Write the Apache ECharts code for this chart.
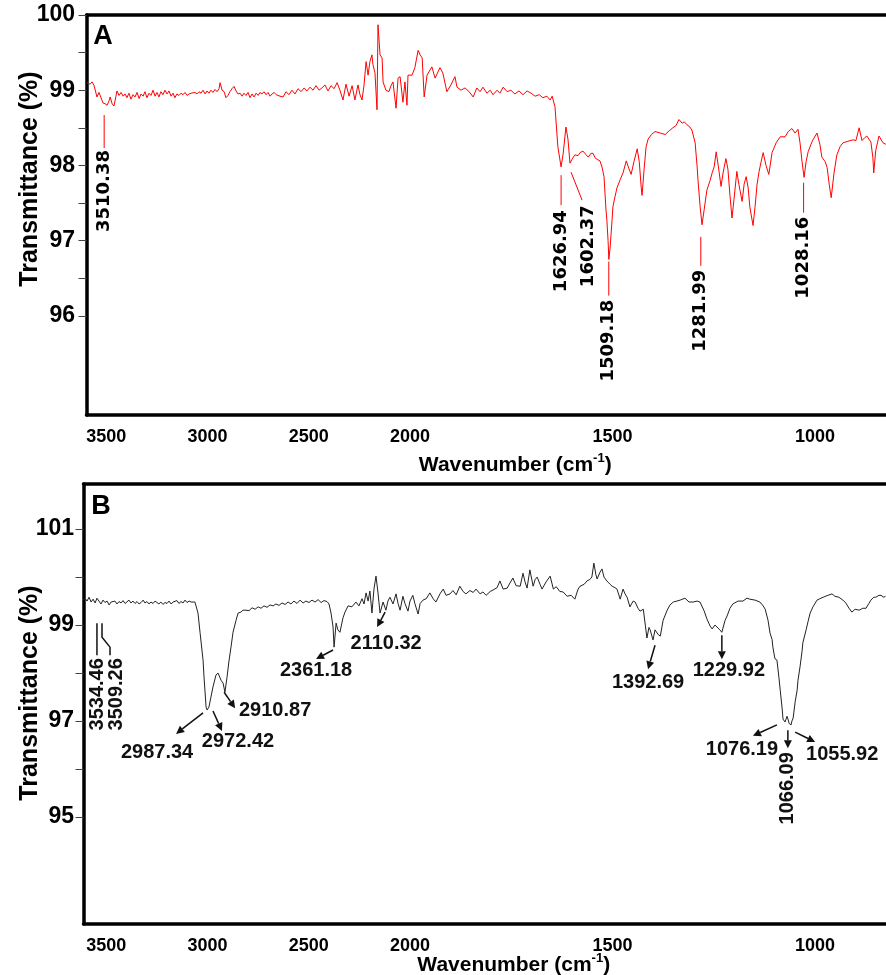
<!DOCTYPE html>
<html>
<head>
<meta charset="utf-8">
<script src="https://cdn.jsdelivr.net/npm/echarts@6/dist/echarts.min.js"></script>
<style>
html, body { margin: 0; padding: 0; background: #fff; }
#chart { width: 886px; height: 975px; }
</style>
</head>
<body>
<div id="chart"></div>
<script>
// spectrum A (red) : [wavenumber, transmittance]
var spectrumA = [
  [3595,99.10],[3580,99.08],[3570,99.11],[3560,99.06],[3555,99.07],[3546,98.91],[3536,98.97],[3526,98.90],
  [3516,98.83],[3506,98.82],[3496,98.80],[3486,98.86],[3481,98.91],[3471,98.82],[3462,98.79],[3452,98.92],
  [3447,98.99],[3437,98.93],[3427,98.97],[3417,98.92],[3407,98.95],[3398,98.90],[3388,98.96],[3378,98.88],
  [3368,98.94],[3358,98.91],[3348,98.97],[3338,98.89],[3328,98.95],[3318,98.92],[3309,98.98],[3299,98.90],
  [3289,98.96],[3279,98.93],[3269,99.00],[3259,98.92],[3250,98.97],[3240,98.91],[3230,98.98],[3220,98.94],
  [3210,99.00],[3200,98.95],[3190,98.99],[3180,98.92],[3170,98.96],[3161,98.90],[3151,98.95],[3141,98.93],
  [3131,98.96],[3121,98.94],[3111,98.97],[3101,98.93],[3091,98.95],[3081,98.96],[3072,98.94],[3062,98.97],
  [3052,98.95],[3042,98.98],[3032,98.96],[3022,99.00],[3012,98.95],[3002,98.99],[2993,98.96],[2983,99.00],
  [2973,98.97],[2963,99.01],[2953,98.98],[2943,99.02],[2938,99.10],[2928,99.00],[2918,98.98],[2909,98.90],
  [2899,98.93],[2889,98.98],[2879,99.02],[2869,99.05],[2859,98.99],[2849,98.95],[2839,98.96],[2829,98.92],
  [2820,98.96],[2810,98.93],[2800,98.97],[2790,98.90],[2780,98.95],[2770,98.91],[2760,98.96],[2750,98.93],
  [2741,98.97],[2731,98.95],[2721,98.98],[2711,98.94],[2701,98.97],[2691,98.92],[2681,98.95],[2671,98.97],
  [2661,98.94],[2652,98.96],[2642,98.92],[2627,98.91],[2612,98.98],[2598,98.94],[2583,99.00],[2568,98.95],
  [2553,99.02],[2538,98.98],[2523,99.03],[2509,98.99],[2494,99.04],[2479,99.00],[2464,99.06],[2449,99.00],
  [2435,99.03],[2420,99.07],[2405,98.99],[2390,99.06],[2375,99.02],[2360,99.10],[2346,99.00],[2331,98.87],
  [2316,99.08],[2301,98.92],[2286,99.06],[2272,98.87],[2257,99.07],[2247,98.94],[2237,98.87],[2227,99.07],
  [2217,99.38],[2207,99.20],[2198,99.38],[2188,99.47],[2183,99.34],[2173,99.23],[2163,98.74],[2158,99.87],
  [2148,99.47],[2138,99.43],[2133,99.11],[2119,99.00],[2104,98.98],[2094,99.06],[2084,99.11],[2069,98.76],
  [2059,99.16],[2049,99.18],[2035,98.84],[2025,99.11],[2015,98.80],[2010,99.20],[1995,99.20],[1988,99.30],
  [1980,99.53],[1975,99.47],[1970,99.43],[1965,98.91],[1958,99.20],[1946,99.31],[1938,99.16],[1926,99.30],
  [1919,99.23],[1909,98.98],[1899,99.07],[1889,99.18],[1884,99.04],[1874,99.00],[1864,99.03],[1854,98.98],
  [1844,98.91],[1835,99.03],[1827,98.98],[1820,99.04],[1810,98.96],[1802,99.00],[1795,98.94],[1785,99.00],
  [1778,98.96],[1770,99.04],[1760,98.98],[1751,99.00],[1741,98.95],[1731,98.99],[1721,98.94],[1711,98.99],
  [1701,98.96],[1691,98.92],[1681,98.94],[1672,98.90],[1662,98.92],[1654,98.87],[1649,98.92],[1642,98.78],
  [1635,98.25],[1627,97.98],[1622,98.15],[1615,98.51],[1610,98.35],[1605,98.03],[1600,98.08],[1593,98.14],
  [1585,98.13],[1580,98.17],[1573,98.19],[1565,98.14],[1560,98.11],[1553,98.16],[1548,98.16],[1543,98.10],
  [1538,98.08],[1531,98.06],[1526,97.98],[1521,97.85],[1516,97.40],[1514,97.28],[1511,97.00],[1509,96.75],
  [1506,96.90],[1501,97.28],[1499,97.45],[1494,97.58],[1489,97.70],[1481,97.81],[1474,97.90],[1466,98.06],
  [1461,97.98],[1454,97.88],[1447,98.05],[1439,98.22],[1434,98.05],[1429,97.70],[1427,97.60],[1422,97.95],
  [1417,98.25],[1412,98.35],[1404,98.41],[1395,98.45],[1382,98.43],[1370,98.41],[1360,98.46],[1351,98.50],
  [1343,98.53],[1336,98.61],[1328,98.56],[1323,98.58],[1316,98.54],[1309,98.51],[1304,98.47],[1296,98.30],
  [1291,97.98],[1289,97.81],[1284,97.47],[1279,97.21],[1274,97.40],[1267,97.67],[1259,97.80],[1254,97.90],
  [1249,97.98],[1244,98.18],[1239,98.00],[1232,97.72],[1227,97.90],[1220,98.09],[1215,97.95],[1210,97.60],
  [1205,97.30],[1200,97.55],[1193,97.92],[1188,97.75],[1180,97.52],[1175,97.75],[1170,97.85],[1165,97.70],
  [1161,97.45],[1153,97.20],[1148,97.45],[1143,97.75],[1138,97.92],[1133,98.05],[1128,98.17],[1121,98.00],
  [1114,97.88],[1106,98.17],[1096,98.30],[1086,98.38],[1074,98.38],[1066,98.45],[1057,98.49],[1049,98.43],
  [1042,98.48],[1037,98.30],[1032,98.05],[1027,97.84],[1022,98.05],[1017,98.18],[1010,98.28],[1005,98.34],
  [995,98.43],[988,98.28],[983,98.11],[975,98.05],[970,97.97],[965,97.75],[960,97.57],[953,97.90],
  [946,98.14],[938,98.25],[931,98.30],[919,98.32],[906,98.34],[899,98.33],[891,98.50],[884,98.33],
  [877,98.37],[872,98.39],[862,98.31],[857,98.10],[855,97.90],[850,98.20],[842,98.39],[832,98.30],[825,98.28]
];

// spectrum B (black)
var spectrumB = [
  [3615,99.52],[3605,99.56],[3595,99.50],[3585,99.58],[3575,99.48],[3565,99.54],[3555,99.46],[3546,99.56],
  [3536,99.50],[3526,99.44],[3516,99.52],[3506,99.47],[3496,99.50],[3486,99.42],[3476,99.48],[3467,99.45],
  [3457,99.50],[3447,99.44],[3437,99.49],[3427,99.46],[3417,99.51],[3407,99.45],[3398,99.48],[3388,99.52],
  [3378,99.46],[3368,99.50],[3358,99.45],[3348,99.49],[3338,99.44],[3328,99.47],[3318,99.52],[3309,99.46],
  [3299,99.49],[3289,99.44],[3279,99.48],[3269,99.45],[3259,99.50],[3250,99.46],[3240,99.44],[3230,99.48],
  [3220,99.43],[3210,99.47],[3200,99.45],[3190,99.50],[3180,99.44],[3170,99.48],[3161,99.46],[3151,99.51],
  [3141,99.45],[3131,99.49],[3121,99.46],[3111,99.52],[3101,99.47],[3091,99.50],[3081,99.48],[3072,99.50],
  [3062,99.48],[3047,99.25],[3037,98.85],[3022,98.27],[3017,97.90],[3007,97.29],[3002,97.23],[2993,97.29],
  [2983,97.50],[2973,97.71],[2958,97.96],[2948,98.00],[2943,97.98],[2933,97.85],[2923,97.79],[2914,97.60],
  [2904,97.90],[2894,98.25],[2884,98.54],[2874,98.85],[2859,99.10],[2849,99.25],[2835,99.27],[2825,99.31],
  [2810,99.31],[2795,99.30],[2780,99.36],[2765,99.33],[2750,99.38],[2736,99.35],[2721,99.40],[2706,99.37],
  [2691,99.42],[2676,99.40],[2662,99.44],[2647,99.41],[2632,99.46],[2617,99.43],[2602,99.48],[2588,99.44],
  [2573,99.50],[2558,99.45],[2543,99.52],[2528,99.46],[2514,99.50],[2499,99.47],[2484,99.52],[2469,99.48],
  [2454,99.53],[2439,99.47],[2425,99.51],[2410,99.49],[2400,99.44],[2390,99.25],[2380,98.96],[2375,98.54],
  [2365,99.04],[2356,98.90],[2346,98.85],[2331,99.15],[2321,99.27],[2306,99.40],[2287,99.38],[2267,99.48],
  [2252,99.40],[2237,99.55],[2227,99.44],[2217,99.67],[2207,99.50],[2198,99.71],[2188,99.25],[2178,99.75],
  [2168,100.02],[2158,99.67],[2148,99.25],[2133,99.48],[2119,99.31],[2109,99.50],[2099,99.58],[2084,99.44],
  [2069,99.65],[2059,99.45],[2049,99.31],[2035,99.60],[2025,99.45],[2010,99.29],[2000,99.50],[1993,99.62],
  [1988,99.45],[1980,99.23],[1975,99.45],[1968,99.52],[1960,99.55],[1951,99.67],[1943,99.55],[1936,99.48],
  [1926,99.65],[1918,99.75],[1911,99.62],[1901,99.65],[1894,99.72],[1886,99.63],[1877,99.81],[1869,99.70],
  [1862,99.65],[1852,99.72],[1844,99.68],[1837,99.75],[1827,99.65],[1820,99.69],[1812,99.62],[1802,99.70],
  [1795,99.73],[1785,99.78],[1778,99.92],[1770,99.75],[1760,99.77],[1753,99.88],[1746,99.98],[1738,99.82],
  [1728,99.81],[1721,100.08],[1716,99.90],[1711,99.77],[1704,100.15],[1696,99.81],[1691,99.95],[1686,100.00],
  [1679,99.85],[1674,99.75],[1664,99.90],[1654,100.02],[1646,99.75],[1639,99.80],[1630,99.70],[1622,99.69],
  [1612,99.60],[1602,99.62],[1593,99.54],[1585,99.75],[1580,99.81],[1570,99.85],[1563,99.92],[1556,99.95],
  [1551,100.00],[1546,100.29],[1541,100.05],[1538,99.96],[1531,100.10],[1526,100.17],[1521,100.00],[1514,99.92],
  [1506,99.85],[1501,99.81],[1494,99.78],[1489,99.75],[1481,99.54],[1474,99.75],[1469,99.65],[1464,99.58],
  [1457,99.38],[1449,99.50],[1444,99.48],[1437,99.35],[1432,99.29],[1424,99.33],[1419,99.00],[1415,98.73],
  [1410,98.95],[1407,98.90],[1402,98.75],[1400,98.69],[1395,98.90],[1392,98.94],[1387,98.80],[1382,98.77],
  [1375,99.10],[1365,99.31],[1358,99.42],[1350,99.48],[1341,99.50],[1333,99.52],[1321,99.56],[1311,99.48],
  [1301,99.48],[1291,99.50],[1284,99.48],[1274,99.30],[1267,99.13],[1259,98.98],[1254,98.92],[1247,99.00],
  [1242,98.96],[1235,98.90],[1230,98.85],[1222,99.10],[1217,99.19],[1210,99.35],[1203,99.44],[1190,99.50],
  [1178,99.50],[1168,99.56],[1161,99.54],[1148,99.52],[1136,99.48],[1128,99.40],[1123,99.33],[1116,99.10],
  [1111,98.83],[1106,98.70],[1104,98.54],[1099,98.30],[1094,98.27],[1089,97.90],[1086,97.65],[1081,97.25],
  [1079,97.04],[1074,96.98],[1072,96.94],[1069,97.10],[1066,97.02],[1064,96.95],[1059,96.92],[1057,97.00],
  [1054,97.06],[1049,97.40],[1044,97.65],[1042,97.85],[1037,98.13],[1032,98.45],[1030,98.63],[1022,98.90],
  [1017,99.08],[1012,99.25],[1005,99.38],[995,99.52],[988,99.55],[980,99.58],[968,99.62],[958,99.65],
  [951,99.60],[941,99.58],[931,99.52],[924,99.46],[916,99.35],[909,99.27],[901,99.33],[891,99.31],
  [882,99.35],[874,99.35],[867,99.45],[862,99.52],[855,99.58],[850,99.58],[842,99.62],[837,99.62],
  [830,99.58],[826,99.60]
];

// axis ticks and labels
var xTickLabels = [1000, 1500, 2000, 2500, 3000, 3500];
var yTicksA = [96, 96.5, 97, 97.5, 98, 98.5, 99, 99.5, 100];
var yLabelsA = [96, 97, 98, 99, 100];
var yTicksB = [95, 96, 97, 98, 99, 100, 101];
var yLabelsB = [95, 97, 99, 101];

// peak labels, panel A (leader line starts at [wn, T])
var peakALabel = ['3510.38', '1626.94', '1602.37', '1509.18', '1281.99', '1028.16'];
var peakAWn = [3510.38, 1626.94, 1602.37, 1509.18, 1281.99, 1028.16];
var peakAT = [98.67, 97.87, 97.91, 96.72, 97.05, 97.77];

// peak labels, panel B (arrow tail at [wn, T])
var peakBLabel = ['2987.34', '2972.42', '2910.87', '2361.18', '2110.32', '1392.69',
  '1229.92', '1076.19', '1066.09', '1055.92', '3534.46', '3509.26'];
var peakBWn = [3022, 2973, 2918, 2380, 2123, 1395, 1230, 1094, 1067, 1049, 3546, 3521];
var peakBT = [97.17, 97.21, 97.60, 98.48, 99.27, 98.58, 98.79, 96.92, 96.81, 96.77, 99.04, 99.04];

// layout of the annotations in pixels: [line end dx, dy, text dx, dy]
var layoutA = [[0, 33, 0, 35], [0, 30, 0, 35], [11, 28, 17, 33], [0, 34, 0, 38], [0, 29, 0, 33], [0, 30, 0, 34]];
var layoutB = [
  { path: [[0, 0], [-27, 21]], arrow: true, text: [-46, 40] },
  { path: [[0, 0], [9, 20]], arrow: true, text: [25, 31] },
  { path: [[0, 0], [11, 16]], arrow: true, text: [51, 18] },
  { path: [[0, 0], [-17, 9]], arrow: true, text: [-17, 20] },
  { path: [[0, 0], [-8, 15]], arrow: true, text: [1, 31] },
  { path: [[0, 0], [-7, 24]], arrow: true, text: [-7, 37] },
  { path: [[0, 0], [0, 24]], arrow: true, text: [7, 35] },
  { path: [[0, 0], [-24, 11]], arrow: true, text: [-35, 25] },
  { path: [[0, 0], [0, 18]], arrow: true, text: [0, 22], rotate: true },
  { path: [[0, 0], [20, 10]], arrow: true, text: [47, 22] },
  { path: [[0, 0], [0, 32]], arrow: false, text: [1, 35], rotate: true },
  { path: [[0, 0], [0, 14], [8, 24], [8, 32]], arrow: false, text: [14, 35], rotate: true }
];

// the instrument halves the scale above 2000 cm-1
function toU(wn) { return wn <= 2000 ? wn : 2000 + (wn - 2000) / 2; }
function fromU(u) { return u <= 2000 ? u : 2000 + (u - 2000) * 2; }

var X_MIN = 824.7, X_MAX_A = 2798.8, X_MAX_B = 2806.2;
var LABEL_FONT = '"Liberation Sans", Arial, sans-serif';

function xAxisBottom(grid, max, gap) {
  return {
    type: 'value', gridIndex: grid, min: X_MIN, max: max, inverse: true,
    axisLine: { onZero: false, lineStyle: { color: '#000', width: 3.5 } },
    axisTick: { show: false },
    splitLine: { show: false },
    axisLabel: {
      customValues: xTickLabels.map(toU),
      formatter: function (v) { return String(Math.round(fromU(v))); },
      margin: 13, color: '#000', fontWeight: 'bold', fontSize: 18, fontFamily: LABEL_FONT
    },
    name: '{a|Wavenumber (cm}{s|-1}{a|)}',
    nameLocation: 'middle',
    nameGap: gap,
    nameMoveOverlap: false,
    nameTextStyle: {
      padding: [0, 0, 0, 58],
      rich: {
        a: { fontSize: 21, fontWeight: 'bold', fontFamily: LABEL_FONT, color: '#000', lineHeight: 26 },
        s: { fontSize: 13, fontWeight: 'bold', fontFamily: LABEL_FONT, color: '#000', verticalAlign: 'top', lineHeight: 26 }
      }
    }
  };
}
function xAxisTop(grid, max) {
  return {
    type: 'value', gridIndex: grid, position: 'top', min: X_MIN, max: max, inverse: true,
    axisLine: { onZero: false, lineStyle: { color: '#000', width: 3.5 } },
    axisTick: { show: false }, axisLabel: { show: false }, splitLine: { show: false }
  };
}
function yAxis(grid, min, max, ticks, labels, margin, gap, shift) {
  return {
    type: 'value', gridIndex: grid, min: min, max: max,
    axisLine: { show: true, onZero: false, lineStyle: { color: '#000', width: 3.5 } },
    axisTick: { show: true, customValues: ticks, length: 8, lineStyle: { color: '#444', width: 1 } },
    axisLabel: { customValues: labels, margin: margin, color: '#000', fontWeight: 'bold', fontSize: 23, fontFamily: LABEL_FONT },
    splitLine: { show: false },
    name: 'Transmittance (%)',
    nameLocation: 'middle',
    nameGap: gap,
    nameMoveOverlap: false,
    nameTextStyle: { color: '#000', fontWeight: 'bold', fontSize: 25, fontFamily: LABEL_FONT, padding: [0, 0, 0, shift] }
  };
}

function renderPeakA(params, api) {
  var i = api.value(2);
  var p = api.coord([api.value(0), api.value(1)]);
  var L = layoutA[i];
  return {
    type: 'group',
    children: [
      { type: 'polyline', shape: { points: [[p[0], p[1]], [p[0] + L[0], p[1] + L[1]]] },
        style: { stroke: '#ff0000', lineWidth: 1, fill: null } },
      { type: 'text', x: p[0] + L[2], y: p[1] + L[3], rotation: Math.PI / 2,
        style: { text: peakALabel[i], align: 'right', verticalAlign: 'middle', fill: '#000',
          fontSize: 18, fontWeight: 'bold', fontFamily: '"DejaVu Sans", sans-serif' } }
    ]
  };
}

function renderPeakB(params, api) {
  var i = api.value(2);
  var p = api.coord([api.value(0), api.value(1)]);
  var L = layoutB[i];
  var pts = L.path.map(function (d) { return [p[0] + d[0], p[1] + d[1]]; });
  var children = [];
  if (L.arrow) {
    var a = pts[pts.length - 2], b = pts[pts.length - 1];
    var ang = Math.atan2(b[1] - a[1], b[0] - a[0]);
    var len = 8, w = 4;
    var base = [b[0] - len * Math.cos(ang), b[1] - len * Math.sin(ang)];
    var nx = -Math.sin(ang), ny = Math.cos(ang);
    pts[pts.length - 1] = base;
    children.push({ type: 'polygon', shape: { points: [b, [base[0] + nx * w, base[1] + ny * w], [base[0] - nx * w, base[1] - ny * w]] },
      style: { fill: '#111' } });
  }
  children.push({ type: 'polyline', shape: { points: pts }, style: { stroke: '#111', lineWidth: 1.5, fill: null } });
  var tx = p[0] + L.text[0], ty = p[1] + L.text[1];
  var textStyle = { text: peakBLabel[i], fill: '#111', fontSize: 20, fontWeight: 'bold', fontFamily: LABEL_FONT };
  if (L.rotate) {
    textStyle.align = 'right'; textStyle.verticalAlign = 'middle';
    children.push({ type: 'text', x: tx, y: ty, rotation: Math.PI / 2, style: textStyle });
  } else {
    textStyle.align = 'center'; textStyle.verticalAlign = 'middle';
    children.push({ type: 'text', x: tx, y: ty, style: textStyle });
  }
  return { type: 'group', children: children };
}

var chart = echarts.init(document.getElementById('chart'), null, { renderer: 'canvas' });
chart.setOption({
  animation: false,
  backgroundColor: '#fff',
  grid: [
    { left: 86.5, top: 15, width: 799.5, height: 400, outerBoundsMode: 'none', containLabel: false },
    { left: 83.5, top: 484, width: 802.5, height: 440, outerBoundsMode: 'none', containLabel: false }
  ],
  xAxis: [xAxisBottom(0, X_MAX_A, 37), xAxisTop(0, X_MAX_A), xAxisBottom(1, X_MAX_B, 28), xAxisTop(1, X_MAX_B)],
  yAxis: [
    yAxis(0, 94.68, 100, yTicksA, yLabelsA, 11.5, 44, 72),
    yAxis(1, 92.77, 101.94, yTicksB, yLabelsB, 9.5, 41, 22)
  ],
  graphic: [
    { type: 'text', x: 103, y: 37, style: { text: 'A', fontSize: 27, fontWeight: 'bold', fontFamily: LABEL_FONT, fill: '#000', align: 'center', verticalAlign: 'middle' } },
    { type: 'text', x: 101, y: 507, style: { text: 'B', fontSize: 27, fontWeight: 'bold', fontFamily: LABEL_FONT, fill: '#000', align: 'center', verticalAlign: 'middle' } }
  ],
  series: [
    {
      type: 'line', xAxisIndex: 0, yAxisIndex: 0, showSymbol: false, silent: true,
      data: spectrumA.map(function (d) { return [toU(d[0]), d[1]]; }),
      lineStyle: { color: '#ff0000', width: 1 }
    },
    {
      type: 'line', xAxisIndex: 2, yAxisIndex: 1, showSymbol: false, silent: true,
      data: spectrumB.map(function (d) { return [toU(d[0]), d[1]]; }),
      lineStyle: { color: '#222', width: 1 }
    },
    {
      type: 'custom', xAxisIndex: 0, yAxisIndex: 0, silent: true, z: 5,
      data: peakAWn.map(function (wn, i) { return [toU(wn), peakAT[i], i]; }),
      renderItem: renderPeakA
    },
    {
      type: 'custom', xAxisIndex: 2, yAxisIndex: 1, silent: true, z: 5,
      data: peakBWn.map(function (wn, i) { return [toU(wn), peakBT[i], i]; }),
      renderItem: renderPeakB
    }
  ]
});
</script>
</body>
</html>
